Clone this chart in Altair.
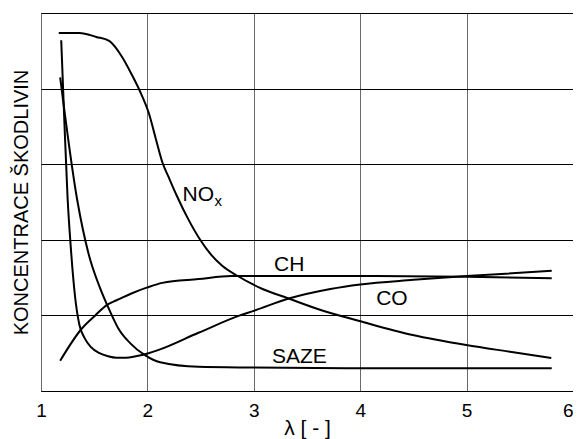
import altair as alt
import pandas as pd

# ---- data ----
nox_x = [1.167, 1.362, 1.520, 1.641, 1.762, 1.855, 1.929, 2.013, 2.087, 2.143, 2.199, 2.273, 2.385, 2.496, 2.600, 2.700, 2.849, 3.082, 3.314, 3.658, 3.993, 4.494, 4.996, 5.424, 5.796]
nox_y = [4.735, 4.735, 4.683, 4.630, 4.418, 4.180, 3.968, 3.677, 3.294, 3.016, 2.831, 2.593, 2.270, 2.000, 1.800, 1.660, 1.521, 1.349, 1.230, 1.058, 0.926, 0.741, 0.608, 0.516, 0.437]

ch_x = [1.18, 1.38, 1.51, 1.62, 1.71, 1.85, 2.00, 2.14, 2.48, 2.79, 3.00, 4.00, 5.00, 5.80]
ch_y = [0.40, 0.82, 1.00, 1.14, 1.20, 1.29, 1.37, 1.43, 1.48, 1.52, 1.52, 1.52, 1.51, 1.49]

co_x = [1.19, 1.22, 1.25, 1.28, 1.32, 1.36, 1.41, 1.47, 1.55, 1.63, 1.71, 1.80, 1.89, 2.01, 2.10, 2.48, 2.87, 3.00, 3.32, 3.72, 4.00, 4.50, 5.00, 5.80]
co_y = [4.64, 3.55, 2.55, 1.90, 1.25, 0.88, 0.70, 0.58, 0.50, 0.46, 0.44, 0.44, 0.46, 0.50, 0.54, 0.77, 1.00, 1.06, 1.22, 1.35, 1.41, 1.47, 1.52, 1.59]

saze_x = [1.18, 1.34, 1.45, 1.55, 1.65, 1.73, 1.84, 1.98, 2.12, 2.48, 3.00, 4.00, 5.00, 5.80]
saze_y = [4.15, 2.53, 1.80, 1.38, 1.05, 0.82, 0.63, 0.47, 0.38, 0.32, 0.31, 0.30, 0.30, 0.30]

label_text = ["NO", "CH", "CO", "SAZE"]
label_x = [2.33, 3.19, 4.15, 3.17]
label_y = [2.51, 1.59, 1.14, 0.37]

sub_text = ["x"]
sub_x = [2.63]
sub_y = [2.45]

x_ticks = [1, 2, 3, 4, 5, 6]
y_grid = [0, 1, 2, 3, 4, 5]

# ---- tables ----
frames = []
for name, xs, ys in [("NOx", nox_x, nox_y), ("CH", ch_x, ch_y),
                     ("CO", co_x, co_y), ("SAZE", saze_x, saze_y)]:
    frames.append(pd.DataFrame({"series": name, "lam": xs, "c": ys}))
df = pd.concat(frames, ignore_index=True)

lab_df = pd.DataFrame({"t": label_text, "lam": label_x, "c": label_y})
sub_df = pd.DataFrame({"t": sub_text, "lam": sub_x, "c": sub_y})

FONT = "Liberation Sans"
W, H = 532, 378
xscale = alt.Scale(domain=[1, 6], nice=False, zero=False)
yscale = alt.Scale(domain=[0, 5], nice=False, zero=False)

x_axis = alt.Axis(values=x_ticks, grid=True, gridColor="#6a6a6a",
                  gridWidth=1, gridOpacity=1, ticks=False, domain=False,
                  labelFontSize=19, labelFont=FONT, labelColor="black",
                  labelPadding=10, labelFlush=False,
                  labelAlign=alt.expr("datum.value == 6 ? 'right' : 'center'"),
                  title="λ [ - ]", titleFont=FONT, titleFontSize=21,
                  titleFontWeight="normal", titleColor="black",
                  titleX=W / 2, titleY=43, titleAlign="center",
                  titleBaseline="alphabetic")
y_axis = alt.Axis(values=y_grid, grid=True, gridColor="black",
                  gridWidth=1, gridOpacity=1, ticks=False, domain=False,
                  labels=False,
                  title="KONCENTRACE ŠKODLIVIN", titleFont=FONT,
                  titleFontSize=20, titleFontWeight="normal",
                  titleColor="black", titleAngle=270, titleX=-20,
                  titleY=H / 2, titleAlign="center", titleBaseline="middle")

lines = alt.Chart(df).mark_line(
    color="black", strokeWidth=2, interpolate="monotone"
).encode(
    x=alt.X("lam:Q", scale=xscale, axis=x_axis),
    y=alt.Y("c:Q", scale=yscale, axis=y_axis),
    detail="series:N",
    order="lam:Q",
)

labels = alt.Chart(lab_df).mark_text(
    align="left", baseline="alphabetic", fontSize=21, font=FONT, color="black"
).encode(
    x=alt.X("lam:Q", scale=xscale, axis=x_axis),
    y=alt.Y("c:Q", scale=yscale, axis=y_axis),
    text="t:N",
)

subs = alt.Chart(sub_df).mark_text(
    align="left", baseline="alphabetic", fontSize=15, font=FONT, color="black"
).encode(
    x=alt.X("lam:Q", scale=xscale, axis=x_axis),
    y=alt.Y("c:Q", scale=yscale, axis=y_axis),
    text="t:N",
)

chart = alt.layer(lines, labels, subs).properties(
    width=W, height=H,
    background="white",
    autosize=alt.AutoSizeParams(type="none"),
    padding={"left": 33, "top": 5, "right": 0, "bottom": 48},
).configure_view(
    stroke="black", strokeWidth=1
)

chart.save("out.html", embed_options={"renderer": "svg", "actions": False})
